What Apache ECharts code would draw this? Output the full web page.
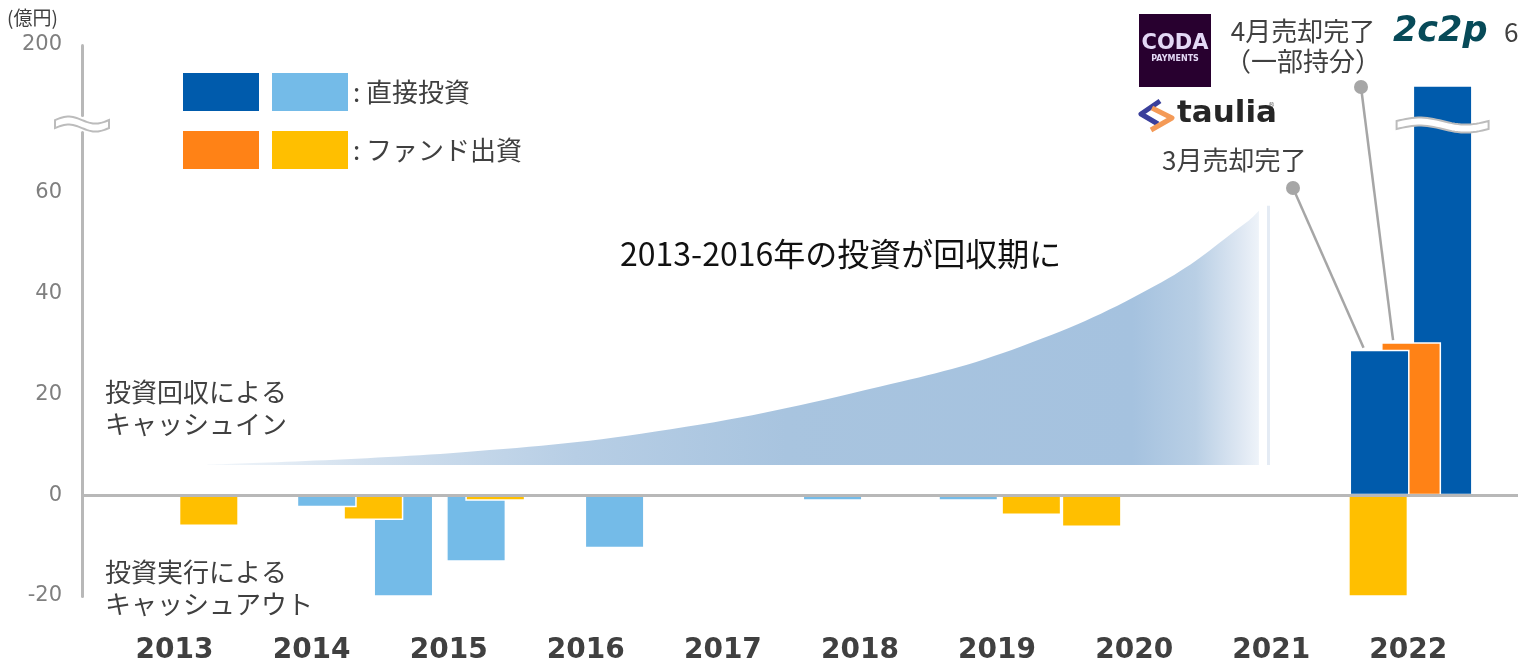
<!DOCTYPE html>
<html>
<head>
<meta charset="utf-8">
<script src="https://cdn.jsdelivr.net/npm/echarts@6.0.0/dist/echarts.min.js"></script>
<style>
  html, body { margin: 0; padding: 0; background: #fff; }
  #chart { width: 1518px; height: 662px; }
</style>
</head>
<body>
<div id="chart"></div>
<script>
var chartDom = document.getElementById('chart');
var myChart = echarts.init(chartDom);

// years on the x axis, y tick labels (億円)
var years = [2013, 2014, 2015, 2016, 2017, 2018, 2019, 2020, 2021, 2022];
var yTicks = [-20, 0, 20, 40, 60, 200];

// each bar: position in years, value in 億円
var lightBackX = [2014.67, 2015.20];
var lightBackVal = [-20.3, -13.2];
var yellowX = [2013.25, 2014.45, 2015.34, 2019.25, 2019.69, 2021.78];
var yellowVal = [-6.1, -4.9, -1.1, -3.9, -6.3, -20.3];
var lightFrontX = [2014.11, 2016.21, 2017.80, 2018.79];
var lightFrontVal = [-2.4, -10.5, -1.1, -1.1];
var darkBackX = [2022.25];
var darkBackVal = [192];
var orangeX = [2022.02];
var orangeVal = [30.4];
var darkFrontX = [2021.79];
var darkFrontVal = [28.9];

// the rising "回収期" shape
var rampX = [2013.24, 2015.08, 2016.62, 2018.15, 2019.18, 2020.20, 2020.82, 2020.91];
var rampVal = [6.1, 8.5, 13.1, 21.6, 29.6, 42.3, 54.2, 56.5];

const colors = {
  darkBlue: '#005BAC',
  lightBlue: '#74BBE8',
  orange: '#FF8216',
  yellow: '#FFBF00',
  text: '#404040',
  axis: '#b8b8b8',
  leader: '#a6a6a6'
};
const jp = "'Noto Sans CJK JP', sans-serif";
const num = "'DejaVu Sans', 'Noto Sans CJK JP', sans-serif";

const pairs = (xs, vs) => xs.map((x, i) => [x, vs[i]]);

function bars(name, xs, vs, color, extra) {
  return Object.assign({
    name: name,
    type: 'bar',
    data: pairs(xs, vs),
    barWidth: 60,
    barGap: '-100%',
    silent: true,
    itemStyle: { color: color, borderColor: '#fff', borderWidth: 1.5 }
  }, extra || {});
}

var option = {
  animation: false,
  textStyle: { fontFamily: jp },
  grid: { left: 82, right: 0, top: 45, bottom: 66, outerBoundsMode: 'none', containLabel: false },
  xAxis: {
    type: 'value',
    min: 2012.325,
    max: 2022.8,
    axisLine: { show: false, onZero: false },
    axisTick: { show: false },
    splitLine: { show: false },
    axisLabel: {
      customValues: years,
      formatter: (v) => String(v),
      fontSize: 28,
      fontWeight: 'bold',
      fontFamily: num,
      color: colors.text,
      margin: 41
    }
  },
  yAxis: {
    type: 'value',
    min: -20,
    max: 200,
    breaks: [{ start: 72, end: 186, gap: '3.1%' }],
    breakArea: { show: false },
    axisLine: { show: true, lineStyle: { color: colors.axis, width: 3 } },
    axisTick: { show: false },
    splitLine: { show: false },
    axisLabel: {
      customValues: yTicks,
      fontSize: 21,
      fontFamily: num,
      color: '#7f7f7f',
      margin: 20
    }
  },
  series: [
    {
      name: 'ramp',
      type: 'line',
      data: pairs(rampX, rampVal),
      smooth: 0.4,
      symbol: 'none',
      silent: true,
      z: 1,
      lineStyle: { width: 0 },
      areaStyle: {
        origin: 6,
        opacity: 1,
        color: new echarts.graphic.LinearGradient(0, 0, 1, 0, [
          { offset: 0, color: '#f3f7fb' },
          { offset: 0.15, color: '#d2e0ee' },
          { offset: 0.35, color: '#b7cee5' },
          { offset: 0.55, color: '#a8c4df' },
          { offset: 0.88, color: '#a5c2df' },
          { offset: 0.94, color: '#b9cfe5' },
          { offset: 0.98, color: '#dce6f2' },
          { offset: 1, color: '#eef3f9' }
        ])
      },
      markLine: {
        silent: true,
        symbol: 'none',
        label: { show: false },
        lineStyle: { color: '#e4ebf4', width: 3, type: 'solid' },
        data: [[{ coord: [2020.98, 6] }, { coord: [2020.98, 57.5] }]]
      }
    },
    bars('直接投資', lightBackX, lightBackVal, colors.lightBlue),
    bars('ファンド出資', yellowX, yellowVal, colors.yellow, {
      markLine: {
        silent: true,
        symbol: 'none',
        label: { show: false },
        lineStyle: { color: colors.axis, width: 3, type: 'solid' },
        data: [{ yAxis: 0 }]
      }
    }),
    bars('直接投資', lightFrontX, lightFrontVal, colors.lightBlue),
    bars('直接投資', darkBackX, darkBackVal, colors.darkBlue),
    bars('ファンド出資', orangeX, orangeVal, colors.orange),
    bars('直接投資', darkFrontX, darkFrontVal, colors.darkBlue)
  ]
};

option && myChart.setOption(option);

// ---- decorations: legend, notes, logos, break marks, leader lines ----
function txt(x, y, text, font, fill, extra) {
  return {
    type: 'text', x: x, y: y, z: 120,
    style: Object.assign({ text: text, font: font, fill: fill || colors.text, verticalAlign: 'middle' }, extra || {})
  };
}
function box(x, y, w, h, fill) {
  return { type: 'rect', shape: { x: x, y: y, width: w, height: h }, style: { fill: fill }, z: 120 };
}
function wave(cx, cy, w) {
  var pts = [], n = 30, amp = 3.5, th = 8;
  for (var i = 0; i <= n; i++) {
    var t = i / n;
    pts.push([cx - w / 2 + t * w, cy - th / 2 - amp * Math.sin(2 * Math.PI * t)]);
  }
  for (var j = n; j >= 0; j--) {
    var s = j / n;
    pts.push([cx - w / 2 + s * w, cy + th / 2 - amp * Math.sin(2 * Math.PI * s)]);
  }
  return { type: 'polygon', shape: { points: pts }, style: { fill: '#fff', stroke: '#bcbcbc', lineWidth: 2 }, z: 110 };
}

var gridPx = (p) => myChart.convertToPixel({ gridIndex: 0 }, p);
var breakY = (myChart.convertToPixel({ yAxisIndex: 0 }, 72) + myChart.convertToPixel({ yAxisIndex: 0 }, 186)) / 2;
if (!isFinite(breakY)) breakY = 125;
var axisX = gridPx([2012.325, 0])[0];
var bigTop = gridPx([darkBackX[0], darkBackVal[0]]);
var smallTop = gridPx([darkFrontX[0], darkFrontVal[0]]);
var orangeTop = gridPx([orangeX[0], orangeVal[0]]);

var graphics = [
  // unit
  txt(7, 18, '(億円)', '19px ' + jp),
  // legend
  box(183, 73, 76, 38, colors.darkBlue),
  box(272, 73, 76, 38, colors.lightBlue),
  txt(353, 92, ': 直接投資', '26px ' + jp),
  box(183, 131, 76, 38, colors.orange),
  box(272, 131, 76, 38, colors.yellow),
  txt(353, 150, ': ファンド出資', '26px ' + jp),
  // notes
  txt(105, 376, '投資回収による\nキャッシュイン', '26px ' + jp, null, { verticalAlign: 'top', lineHeight: 32 }),
  txt(105, 556, '投資実行による\nキャッシュアウト', '26px ' + jp, null, { verticalAlign: 'top', lineHeight: 32 }),
  txt(620, 254, '2013-2016年の投資が回収期に', '32px ' + jp, '#111'),
  txt(1303, 16, '4月売却完了\n（一部持分）', '26px ' + jp, null, { verticalAlign: 'top', lineHeight: 30, align: 'center' }),
  txt(1162, 160, '3月売却完了', '26px ' + jp),
  txt(1504, 32, '6月売却完了', '26px ' + jp),
  // CODA Payments logo
  box(1139, 14, 72, 73, '#28002f'),
  txt(1175, 44, 'CODA', '900 21px ' + num, '#e3d8f5', { align: 'center' }),
  txt(1175, 59, 'PAYMENTS', 'bold 8px ' + num, '#e3d8f5', { align: 'center' }),
  // taulia logo
  {
    type: 'polyline', z: 120,
    shape: { points: [[1160, 101], [1141, 114], [1158, 124]] },
    style: { stroke: '#3a3f9b', lineWidth: 5, fill: null, lineJoin: 'round' }
  },
  {
    type: 'polyline', z: 120,
    shape: { points: [[1152, 108], [1172, 118], [1151, 130]] },
    style: { stroke: '#f49a57', lineWidth: 5, fill: null, lineJoin: 'round' }
  },
  txt(1177, 114, 'taulia', 'bold 31px ' + num, '#262626'),
  txt(1268, 105, '®', '7px ' + num, '#666'),
  // 2c2p logo
  txt(1393, 32, '2c2p', 'italic 900 35px ' + num, '#074a58'),
  // break marks
  wave(axisX, breakY, 54),
  wave(bigTop[0], breakY + 1, 92),
  // leader lines
  {
    type: 'line', z: 105,
    shape: { x1: 1293, y1: 188, x2: smallTop[0] - 16, y2: smallTop[1] - 2 },
    style: { stroke: colors.leader, lineWidth: 2.5 }
  },
  { type: 'circle', z: 106, shape: { cx: 1293, cy: 188, r: 7 }, style: { fill: colors.leader } },
  {
    type: 'line', z: 105,
    shape: { x1: 1361, y1: 87, x2: orangeTop[0] - 18, y2: orangeTop[1] - 2 },
    style: { stroke: colors.leader, lineWidth: 2.5 }
  },
  { type: 'circle', z: 106, shape: { cx: 1361, cy: 87, r: 7 }, style: { fill: colors.leader } }
];

myChart.setOption({ graphic: graphics });

window.addEventListener('resize', function () {
  myChart.resize();
});
</script>
</body>
</html>
